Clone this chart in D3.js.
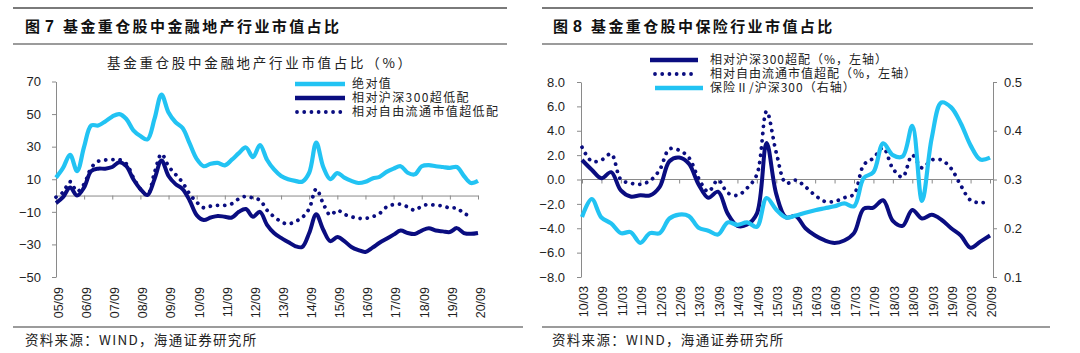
<!DOCTYPE html>
<html><head><meta charset="utf-8">
<script src="https://cdn.jsdelivr.net/npm/d3@7/dist/d3.min.js"></script>
<style>body{margin:0;background:#fff;overflow:hidden}</style>
</head><body><svg id="c" width="1080" height="353"></svg>
<script>
// ---------- Figure 7 data (quarterly, 05Q3 .. 20Q3) ----------
const xLabelsL = ["05/09","06/09","07/09","08/09","09/09","10/09","11/09","12/09","13/09","14/09","15/09","16/09","17/09","18/09","19/09","20/09"];
const yTicksL = [-50,-30,-10,10,30,50,70];
const absL = [11,17,25,15,30,43,43,45.5,48.5,50,47,40,36.5,34.5,47,62,51,45,41.5,32,22.5,18,19.5,20,18.5,22,26,29.5,23.6,31,22,16,12,10,9,8.5,14,32.5,17.5,10,13.8,11,9,7.7,8.5,10.5,11.5,14.5,16.5,18,14,13,18,18.7,18,17.5,17,17.5,12,7.7,9];
const rel300L = [-4.6,-1,5,0,5,15,16.5,16.5,17.5,20.5,18,10,4,0.3,10,21.5,12,7,4,-3,-12,-15,-13.5,-12.5,-13,-13.5,-10,-8.3,-13,-10,-18,-23,-26,-28.5,-31,-31.6,-23,-11.5,-21,-28,-25.5,-28,-31.6,-33.5,-34.6,-32,-29,-26.5,-24,-21.5,-23,-23.6,-21.5,-20,-21.5,-22,-22.4,-20,-23,-23.5,-23];
const relFreeL = [-1,2,8.5,2.5,7,17,21,21.8,22,22,19.5,11,4,0.3,14,25.5,18,13,8,1,-4,-7.5,-6.5,-6,-6,-5,-2,-0.5,-1.5,-2.8,-9,-13,-16,-17.5,-16,-13.5,-8,4,-5,-12,-9,-11.5,-13,-14,-14,-13,-11,-7,-5.5,-5.3,-7,-9,-6.5,-5.5,-6,-6.4,-7.7,-7.7,-11,-12.6,null];
const legendL = ["绝对值","相对沪深300超低配","相对自由流通市值超低配"];

// ---------- Figure 8 data (quarterly, 10Q1 .. 20Q3) ----------
const xLabelsR = ["10/03","10/09","11/03","11/09","12/03","12/09","13/03","13/09","14/03","14/09","15/03","15/09","16/03","16/09","17/03","17/09","18/03","18/09","19/03","19/09","20/03","20/09"];
const yTicksR = [-8,-6,-4,-2,0,2,4,6,8];
const y2TicksR = [0.1,0.2,0.3,0.4,0.5];
const rel300R = [1.6,0.8,0.1,0.6,-0.9,-1.4,-1.3,-1.3,-0.6,1.5,1.8,1.3,-0.4,-1.5,-1.0,-2.8,-3.8,-3.7,-2.8,3.0,-1.2,-3.1,-3.0,-4.0,-4.6,-5.0,-5.2,-5.0,-4.4,-2.4,-2.3,-1.7,-3.4,-3.8,-2.5,-3.2,-2.9,-3.3,-4.0,-4.6,-5.6,-5.1,-4.6];
const relFreeR = [2.65,1.5,1.6,2.1,0.0,-0.3,-0.4,-0.1,0.8,2.5,2.4,1.8,0.1,-1.0,-0.05,-1.1,-1.3,-0.7,0.4,5.6,2.2,-0.3,-0.05,-0.6,-1.3,-1.8,-1.8,-1.5,-1.2,1.2,1.75,2.6,0.9,0.2,2.0,0.95,1.6,1.6,0.9,-0.5,-1.7,-1.9,-1.8];
const insR = [0.223,0.26,0.222,0.210,0.190,0.192,0.170,0.190,0.190,0.220,0.228,0.225,0.201,0.195,0.187,0.212,0.207,0.212,0.203,0.262,0.238,0.222,0.226,0.232,0.237,0.241,0.245,0.251,0.245,0.303,0.315,0.374,0.350,0.347,0.410,0.256,0.385,0.458,0.448,0.415,0.370,0.341,0.345];
const legendR = ["相对沪深300超配（%，左轴）","相对自由流通市值超配（%，左轴）","保险Ⅱ/沪深300（右轴）"];

const svg = d3.select("#c");
const CJK = "'Noto Sans CJK SC','Noto Sans CJK JP',sans-serif";
const LAT = "'Liberation Sans',Arial,sans-serif";
const NAVY = "#0A0D80", CYAN = "#22C3F3", GRAY = "#8a8a8a", TXT = "#1e1e1e";
svg.append("rect").attr("width",1080).attr("height",353).attr("fill","#fff");

function hline(x1,x2,y,w){ svg.append("line").attr("x1",x1).attr("x2",x2).attr("y1",y).attr("y2",y).attr("stroke","#7a7a7a").attr("stroke-width",w); }
function title(x, num, rest){
  const t = svg.append("text").attr("y",32).attr("font-family",CJK).attr("font-weight",700).attr("font-size",15).attr("fill","#111");
  t.append("tspan").attr("x",x).text("图");
  t.append("tspan").attr("x",x+20).attr("font-family",LAT).attr("font-size",16).text(num);
  t.append("tspan").attr("x",x+38).attr("letter-spacing",2.4).text(rest);
}
function source(x){
  svg.append("text").attr("x",x).attr("y",345).attr("font-family",CJK).attr("font-size",13.5).attr("letter-spacing",1.3).attr("fill","#222").text("资料来源：WIND，海通证券研究所");
}
function styleAxis(g, fs){
  g.select(".domain").attr("stroke",GRAY);
  g.selectAll(".tick line").attr("stroke",GRAY);
  g.selectAll("text").attr("font-family",LAT).attr("font-size",fs).attr("fill",TXT);
}

// frames
hline(13,507,8,2); hline(13,507,44,1.5); hline(13,523,327,1.5);
hline(542,1033,8,2); hline(542,1033,44,1.5); hline(542,1050,327,1.5);
title(25,"7","基金重仓股中金融地产行业市值占比");
title(553,"8","基金重仓股中保险行业市值占比");
source(25); source(552);

// ================= Left chart =================
const xL = d3.scaleLinear().domain([0,absL.length-1]).range([56,478]);
const yL = d3.scaleLinear().domain([-50,70]).range([277,81.5]);
svg.append("text").attr("x",107).attr("y",68).attr("font-family",CJK).attr("font-size",13.5).attr("letter-spacing",2.7).attr("fill","#222").text("基金重仓股中金融地产行业市值占比（%）");

const gyL = svg.append("g").attr("transform","translate(56,0)")
  .call(d3.axisLeft(yL).tickValues(yTicksL).tickSize(4).tickSizeOuter(0).tickPadding(11).tickFormat(d3.format("d")));
styleAxis(gyL,13);
const gxL = svg.append("g").attr("transform",`translate(0,${yL(0)})`)
  .call(d3.axisBottom(xL).tickValues(d3.range(0,absL.length,4)).tickSize(4).tickSizeOuter(0).tickFormat((d,i)=>xLabelsL[i]));
styleAxis(gxL,12.5);
gxL.selectAll("text").attr("y",null).attr("dy","0.35em").attr("text-anchor","end")
  .attr("transform",`translate(2,${287-yL(0)}) rotate(-90)`);

const curve = d3.curveCatmullRom.alpha(0.5);
const lineL = d3.line().defined(d=>d!=null).x((d,i)=>xL(i)).y(d=>yL(d)).curve(curve);
svg.append("path").attr("d",lineL(absL)).attr("fill","none").attr("stroke",CYAN).attr("stroke-width",4.2).attr("stroke-linejoin","round");
svg.append("path").attr("d",lineL(rel300L)).attr("fill","none").attr("stroke",NAVY).attr("stroke-width",4).attr("stroke-linejoin","round");
svg.append("path").attr("d",lineL(relFreeL)).attr("fill","none").attr("stroke",NAVY).attr("stroke-width",3.8).attr("stroke-linecap","round").attr("stroke-dasharray","0.01 7.2");

// left legend
const legYL = [84,98,112];
[[CYAN,null],[NAVY,null],[NAVY,"0.01 7.2"]].forEach(([c,dash],k)=>{
  const l = svg.append("line").attr("x1",dash?297:295).attr("x2",345).attr("y1",legYL[k]).attr("y2",legYL[k]).attr("stroke",c).attr("stroke-width",dash?3.8:4.5);
  if(dash) l.attr("stroke-dasharray",dash).attr("stroke-linecap","round");
  svg.append("text").attr("x",352).attr("y",legYL[k]).attr("dy","0.36em").attr("font-family",CJK).attr("font-size",12).attr("letter-spacing",1.4).attr("fill","#222").text(legendL[k]);
});

// ================= Right chart =================
const xR = d3.scaleLinear().domain([0,rel300R.length-1]).range([582,990]);
const yR = d3.scaleLinear().domain([-8,8]).range([277,82]);
const y2R = d3.scaleLinear().domain([0.1,0.5]).range([277,82]);

const gyR = svg.append("g").attr("transform","translate(581,0)")
  .call(d3.axisLeft(yR).tickValues(yTicksR).tickSize(4).tickSizeOuter(0).tickPadding(12).tickFormat(d3.format(".1f")));
styleAxis(gyR,13);
const gy2R = svg.append("g").attr("transform","translate(993,0)")
  .call(d3.axisRight(y2R).tickValues(y2TicksR).tickSize(4).tickSizeOuter(0).tickPadding(7).tickFormat(d3.format(".1f")));
styleAxis(gy2R,13);
const gxR = svg.append("g").attr("transform",`translate(0,${yR(0)})`)
  .call(d3.axisBottom(xR).tickValues(d3.range(0,rel300R.length,2)).tickSize(4).tickSizeOuter(0).tickFormat((d,i)=>xLabelsR[i]));
styleAxis(gxR,12.5);
gxR.select(".domain").attr("d",`M581,0H993`);
gxR.selectAll("text").attr("y",null).attr("dy","0.35em").attr("text-anchor","end")
  .attr("transform",`translate(1,${286-yR(0)}) rotate(-90)`);

const lineR = d3.line().defined(d=>d!=null).x((d,i)=>xR(i)).y(d=>yR(d)).curve(curve);
const lineR2 = d3.line().x((d,i)=>xR(i)).y(d=>y2R(d)).curve(curve);
svg.append("path").attr("d",lineR(rel300R)).attr("fill","none").attr("stroke",NAVY).attr("stroke-width",4).attr("stroke-linejoin","round");
svg.append("path").attr("d",lineR(relFreeR)).attr("fill","none").attr("stroke",NAVY).attr("stroke-width",3.8).attr("stroke-linecap","round").attr("stroke-dasharray","0.01 7.2");
svg.append("path").attr("d",lineR2(insR)).attr("fill","none").attr("stroke",CYAN).attr("stroke-width",4.2).attr("stroke-linejoin","round");

// right legend
const legYR = [60,74,88];
[[NAVY,null,650,698],[NAVY,"0.01 7.2",655,695],[CYAN,null,655,703]].forEach(([c,dash,a,b],k)=>{
  const l = svg.append("line").attr("x1",a).attr("x2",b).attr("y1",legYR[k]).attr("y2",legYR[k]).attr("stroke",c).attr("stroke-width",dash?3.8:4.5);
  if(dash) l.attr("stroke-dasharray",dash).attr("stroke-linecap","round");
  svg.append("text").attr("x",710).attr("y",legYR[k]).attr("dy","0.36em").attr("font-family",CJK).attr("font-size",12).attr("letter-spacing",1).attr("fill","#222").text(legendR[k]);
});
</script></body></html>
